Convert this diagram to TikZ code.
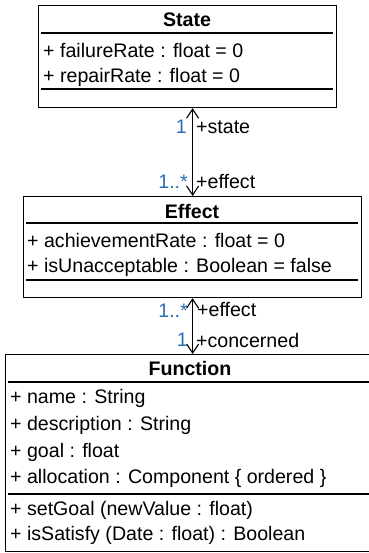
\documentclass[tikz,border=0pt]{standalone}
\usepackage{fontspec}
\setmainfont{Liberation Sans}
\usetikzlibrary{arrows.meta}
\definecolor{multblue}{RGB}{40,110,180}
\tikzset{
  classbox/.style={draw, line width=1.2pt, anchor=north west, inner sep=0pt},
  sepline/.style={line width=1.1pt},
  member/.style={anchor=west, inner sep=0pt, font=\fontsize{19.6}{22}\selectfont},
  classname/.style={inner sep=0pt, font=\fontsize{19.6}{22}\selectfont\bfseries},
  rolename/.style={anchor=west, inner sep=0pt, font=\fontsize{19.6}{22}\selectfont},
  multname/.style={anchor=east, inner sep=0pt, text=multblue, font=\fontsize{19.6}{22}\selectfont},
  assoc/.style={line width=1.1pt, {Straight Barb[length=9pt,width=12pt]}-{Straight Barb[length=9pt,width=12pt]}}
}
\begin{document}
\begin{tikzpicture}[x=1pt, y=-1pt]
        \useasboundingbox (0,0) rectangle (368,553);
        \node [classbox, minimum width=298pt, minimum height=102pt] (state) at (38,5) {};
        \node [classname] (stateName) at (187,20) {State};
        \draw [sepline] (41,33) -- (333,33);
        \draw [sepline] (41,89) -- (333,89);
        \node [member] (stateFailure) at (43,50) {+ failureRate : float = 0};
        \node [member] (stateRepair) at (43,77) {+ repairRate : float = 0};
        \node [classbox, minimum width=338pt, minimum height=101pt] (effect) at (23,196) {};
        \node [classname] (effectName) at (192,211) {Effect};
        \draw [sepline] (26,223) -- (358,223);
        \draw [sepline] (26,280) -- (358,280);
        \node [member] (effectAchievement) at (27,240) {+ achievementRate : float = 0};
        \node [member] (effectUnacceptable) at (27,267) {+ isUnacceptable : Boolean = false};
        \node [classbox, minimum width=380pt, minimum height=197pt] (function) at (5,354) {};
        \node [classname] (functionName) at (190,368) {Function};
        \draw [sepline] (8,382) -- (380,382);
        \draw [sepline] (8,494) -- (380,494);
        \foreach \y/\txt in {398/{+ name : String}, 425/{+ description : String}, 452/{+ goal : float}, 478/{+ allocation : Component \{ ordered \}}, 510/{+ setGoal (newValue : float)}, 535/{+ isSatisfy (Date : float) : Boolean}}{
          \node [member] (functionMember\y) at (10,\y) {\txt};
        }
        \draw [assoc] (effect.north) -- (effect.north |- state.south);
        \node [multname] (stateMult) at (187,127) {1};
        \node [rolename] (stateRole) at (196,127) {+state};
        \node [multname] (effectMultTop) at (188,182) {1..*};
        \node [rolename] (effectRoleTop) at (196,182) {+effect};
        \draw [assoc] (effect.south) -- (effect.south |- function.north);
        \node [multname] (effectMultBottom) at (188,311) {1..*};
        \node [rolename] (effectRoleBottom) at (197,310) {+effect};
        \node [multname] (functionMult) at (188,340) {1};
        \node [rolename] (functionRole) at (196,340) {+concerned};
      \end{tikzpicture}
\end{document}
